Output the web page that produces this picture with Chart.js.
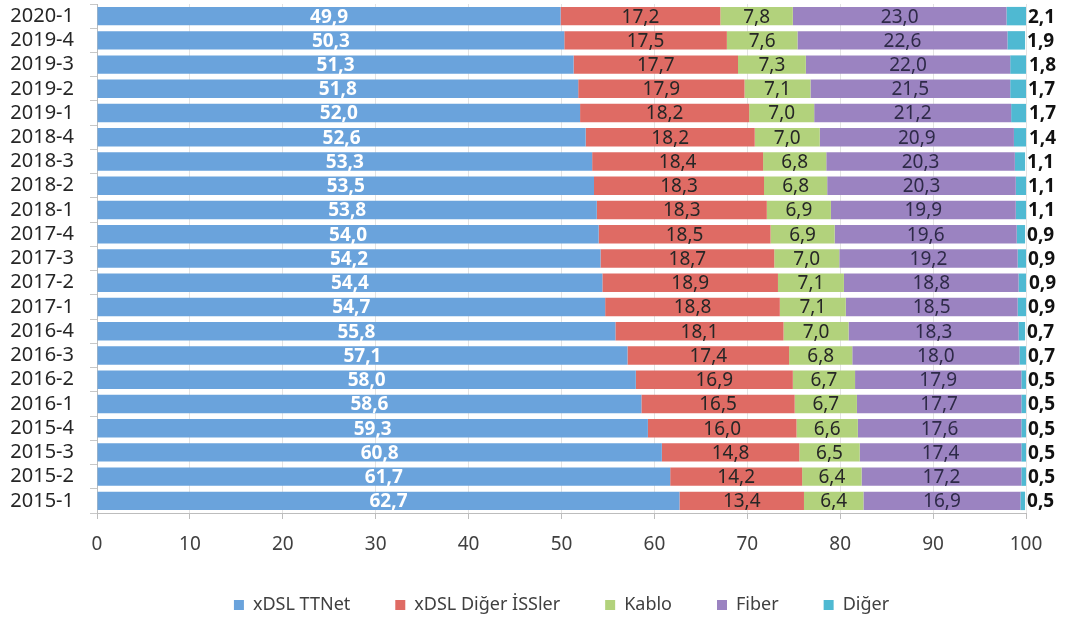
<!DOCTYPE html>
<html>
<head>
<meta charset="utf-8">
<script src="https://cdn.jsdelivr.net/npm/chart.js@4"></script>
<style>
  html, body { margin: 0; padding: 0; background: #fff; }
  #wrap { width: 1073px; height: 622px; }
</style>
</head>
<body>
<div id="wrap"><canvas id="chart"></canvas></div>
<script>
// Quarters, top to bottom as in the picture
const periods = ['2020-1', '2019-4', '2019-3', '2019-2', '2019-1', '2018-4', '2018-3', '2018-2', '2018-1',
    '2017-4', '2017-3', '2017-2', '2017-1', '2016-4', '2016-3', '2016-2', '2016-1', '2015-4', '2015-3', '2015-2', '2015-1'];

const xdslTTNet = [49.9, 50.3, 51.3, 51.8, 52.0, 52.6, 53.3, 53.5, 53.8, 54.0, 54.2, 54.4, 54.7, 55.8, 57.1, 58.0, 58.6, 59.3, 60.8, 61.7, 62.7];
const xdslOther = [17.2, 17.5, 17.7, 17.9, 18.2, 18.2, 18.4, 18.3, 18.3, 18.5, 18.7, 18.9, 18.8, 18.1, 17.4, 16.9, 16.5, 16.0, 14.8, 14.2, 13.4];
const kablo = [7.8, 7.6, 7.3, 7.1, 7.0, 7.0, 6.8, 6.8, 6.9, 6.9, 7.0, 7.1, 7.1, 7.0, 6.8, 6.7, 6.7, 6.6, 6.5, 6.4, 6.4];
const fiber = [23.0, 22.6, 22.0, 21.5, 21.2, 20.9, 20.3, 20.3, 19.9, 19.6, 19.2, 18.8, 18.5, 18.3, 18.0, 17.9, 17.7, 17.6, 17.4, 17.2, 16.9];
const diger = [2.1, 1.9, 1.8, 1.7, 1.7, 1.4, 1.1, 1.1, 1.1, 0.9, 0.9, 0.9, 0.9, 0.7, 0.7, 0.5, 0.5, 0.5, 0.5, 0.5, 0.5];

const xTicks = [0, 10, 20, 30, 40, 50, 60, 70, 80, 90, 100];

const FONT = '"Noto Sans", sans-serif';

// draws the value labels inside the segments (and right of the last one)
const barLabels = {
    id: 'barLabels',
    afterDatasetsDraw(chart) {
        const ctx = chart.ctx;
        ctx.save();
        ctx.textBaseline = 'middle';
        chart.data.datasets.forEach((ds, di) => {
            const meta = chart.getDatasetMeta(di);
            meta.data.forEach((bar, i) => {
                const txt = ds.data[i].toFixed(1).replace('.', ',');
                if (di === 0) {
                    ctx.font = 'bold 19px ' + FONT;
                    ctx.fillStyle = '#ffffff';
                    ctx.textAlign = 'center';
                    ctx.fillText(txt, (bar.x + bar.base) / 2, bar.y + 1);
                } else if (di === 4) {
                    ctx.font = 'bold 19px ' + FONT;
                    ctx.fillStyle = '#111111';
                    ctx.textAlign = 'left';
                    ctx.fillText(txt, bar.x + 2, bar.y + 1);
                } else {
                    ctx.font = '19px ' + FONT;
                    ctx.fillStyle = di === 3 ? '#2e2a48' : '#262626';
                    ctx.textAlign = 'center';
                    ctx.fillText(txt, (bar.x + bar.base) / 2, bar.y + 1);
                }
            });
        });
        ctx.restore();
    }
};

const mkSet = (label, data, color) => ({
    label: label,
    data: data,
    backgroundColor: color,
    borderWidth: 0,
    categoryPercentage: 1,
    barPercentage: 0.76
});

new Chart(document.getElementById('chart'), {
    type: 'bar',
    data: {
        labels: periods,
        datasets: [
            mkSet('xDSL TTNet', xdslTTNet, '#6aa3dc'),
            mkSet('xDSL Diğer İSSler', xdslOther, '#df6b64'),
            mkSet('Kablo', kablo, '#b2d27c'),
            mkSet('Fiber', fiber, '#9b83c1'),
            mkSet('Diğer', diger, '#4fb9d2')
        ]
    },
    options: {
        indexAxis: 'y',
        responsive: true,
        maintainAspectRatio: false,
        animation: false,
        layout: { padding: { top: 4, right: 47, bottom: 0, left: 0 } },
        scales: {
            x: {
                stacked: true,
                min: 0,
                max: 100,
                afterBuildTicks: (scale) => { scale.ticks = xTicks.map(v => ({ value: v })); },
                afterFit: (scale) => { scale.height = 38; },
                grid: { color: '#e3e3e3', tickLength: 6, tickColor: '#bdbdbd' },
                border: { color: '#bdbdbd' },
                ticks: { font: { family: FONT, size: 19 }, color: '#404040', padding: 14 }
            },
            y: {
                stacked: true,
                afterFit: (scale) => { scale.width = 97; scale.paddingTop = 0; scale.paddingBottom = 0; },
                grid: { drawOnChartArea: false, offset: true, tickLength: 7, color: '#c8c8c8' },
                border: { color: '#bdbdbd' },
                ticks: { autoSkip: false, font: { family: FONT, size: 20 }, color: '#262626', padding: 16 }
            }
        },
        plugins: {
            tooltip: { enabled: false },
            legend: {
                position: 'bottom',
                fullSize: false,
                maxHeight: 71,
                labels: {
                    font: { family: FONT, size: 18 },
                    color: '#404040',
                    boxWidth: 10,
                    boxHeight: 10,
                    padding: 45
                }
            }
        }
    },
    plugins: [barLabels]
});
</script>
</body>
</html>
